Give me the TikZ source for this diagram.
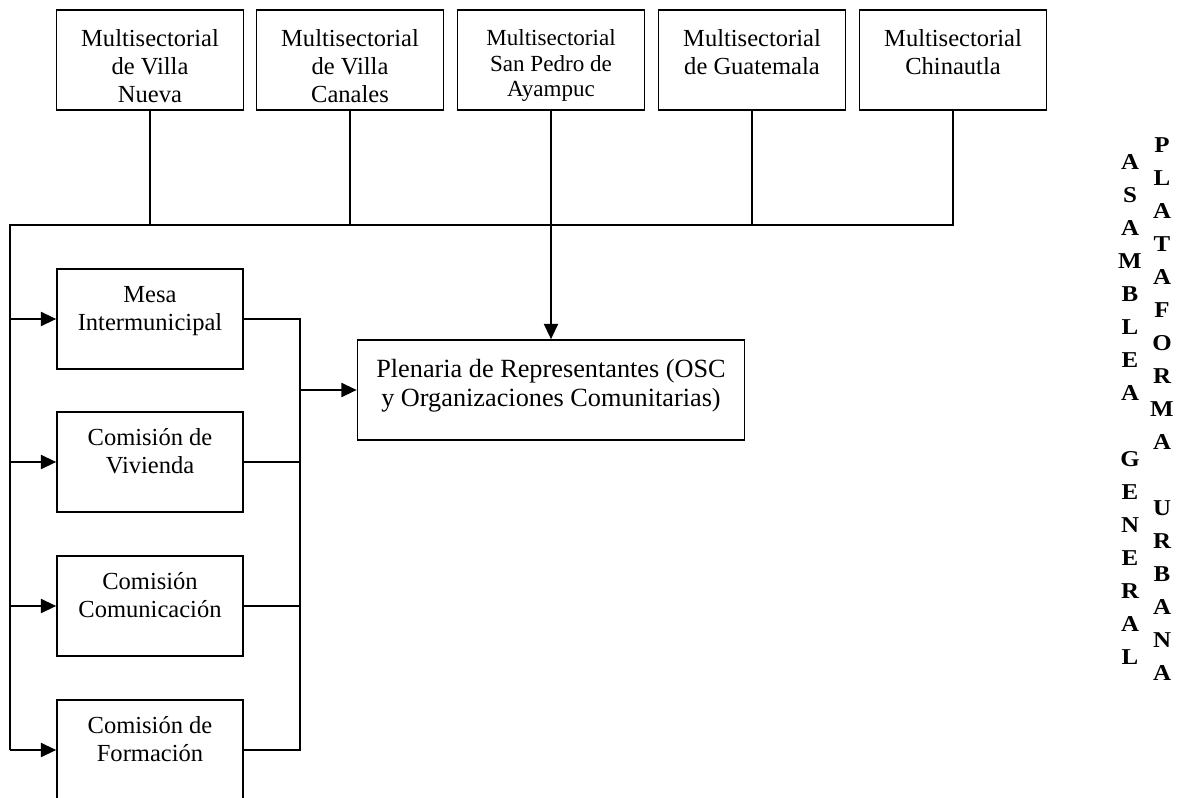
\documentclass[tikz,border=0pt]{standalone}
\usepackage{fontspec}
\setmainfont{Liberation Serif}
\usepackage{graphicx}
\usetikzlibrary{
  arrows.meta,
  positioning,
}
\tikzset{
  >={Triangle[width=10.5pt,length=11.5pt]},
  caja/.style={draw, line width=1.2pt, inner sep=0pt},
  linea/.style={line width=1.2pt},
  flecha/.style={->, line width=1.6pt},
  letra/.style={inner sep=0pt, anchor=base, font=\fontsize{17}{17}\selectfont\bfseries},
}
\newcommand{\fuentecaja}{\fontsize{18.4}{21}\selectfont}
% text of a box, set from its top edge
\newcommand{\cajatexto}[4]{\parbox[c][#2][t]{#1}{\centering\rule{0pt}{#3}#4}}

\begin{document}
\begin{tikzpicture}[x=0.75pt, y=-0.75pt]
    \useasboundingbox (0,0) rectangle (1185,798);

    % the five multisectorials
    \node[caja, font=\fuentecaja] (nueva) at (150,60)
      {\cajatexto{140.25pt}{75pt}{27.5pt}{Multisectorial\\de Villa\\Nueva}};
    \node[caja, font=\fuentecaja] (canales) at (350,60)
      {\cajatexto{140.25pt}{75pt}{27.5pt}{Multisectorial\\de Villa\\Canales}};
    \node[caja, font=\fontsize{17.3}{19}\selectfont] (sanpedro) at (551,60)
      {\cajatexto{140.25pt}{75pt}{27pt}{Multisectorial\\San Pedro de\\Ayampuc}};
    \node[caja, font=\fuentecaja] (guatemala) at (752,60)
      {\cajatexto{140.25pt}{75pt}{27.5pt}{Multisectorial\\de Guatemala}};
    \node[caja, font=\fuentecaja] (chinautla) at (953,60)
      {\cajatexto{140.25pt}{75pt}{27.5pt}{Multisectorial\\Chinautla}};

    % commissions on the left
    \node[caja, font=\fuentecaja] (mesa) at (150,319)
      {\cajatexto{139.5pt}{75pt}{25pt}{Mesa\\Intermunicipal}};
    \node[caja, font=\fuentecaja] (vivienda) at (150,462)
      {\cajatexto{139.5pt}{75pt}{25pt}{Comisión de\\Vivienda}};
    \node[caja, font=\fuentecaja] (comunicacion) at (150,606)
      {\cajatexto{139.5pt}{75pt}{25pt}{Comisión\\Comunicación}};
    \node[caja, font=\fuentecaja] (formacion) at (150,750)
      {\cajatexto{139.5pt}{75pt}{25pt}{Comisión de\\Formación}};

    % plenary
    \node[caja, font=\fontsize{19.7}{21.75}\selectfont] (plenaria) at (551,390)
      {\cajatexto{290.25pt}{75pt}{27.75pt}{Plenaria de Representantes (OSC\\y Organizaciones Comunitarias)}};

    % bus under the multisectorials, down the left side
    \coordinate (busL) at (10,225);
    \coordinate (busR) at (300,390);
    \draw[linea] (chinautla.south) |- (busL) -- (busL |- formacion.west);
    \foreach \n in {nueva,canales,guatemala,sanpedro} {
      \draw[linea] (\n.south) -- (\n.south |- busL);
    }
    \draw[flecha] (sanpedro.south |- busL) -- (plenaria.north);
    \foreach \n in {mesa,vivienda,comunicacion,formacion} {
      \draw[flecha] (busL |- \n.west) -- (\n.west);
    }

    % commissions join and go to the plenary
    \draw[linea] (mesa.east) -| (busR |- formacion.east) -- (formacion.east);
    \foreach \n in {vivienda,comunicacion} {
      \draw[linea] (\n.east) -- (\n.east -| busR);
    }
    \draw[flecha] (busR) -- (plenaria.west);

    % vertical titles
    \foreach \ch/\k in {A/0,S/1,A/2,M/3,B/4,L/5,E/6,A/7,G/9,E/10,N/11,E/12,R/13,A/14,L/15} {
      \node[letra] (asam\k) at (1130,{169.5+33*\k}) {\scalebox{1.1}[1]{\ch}};
    }
    \foreach \ch/\k in {P/0,L/1,A/2,T/3,A/4,F/5,O/6,R/7,M/8,A/9,U/11,R/12,B/13,A/14,N/15,A/16} {
      \node[letra] (plat\k) at (1162,{152.5+33*\k}) {\scalebox{1.1}[1]{\ch}};
    }
  \end{tikzpicture}
\end{document}
